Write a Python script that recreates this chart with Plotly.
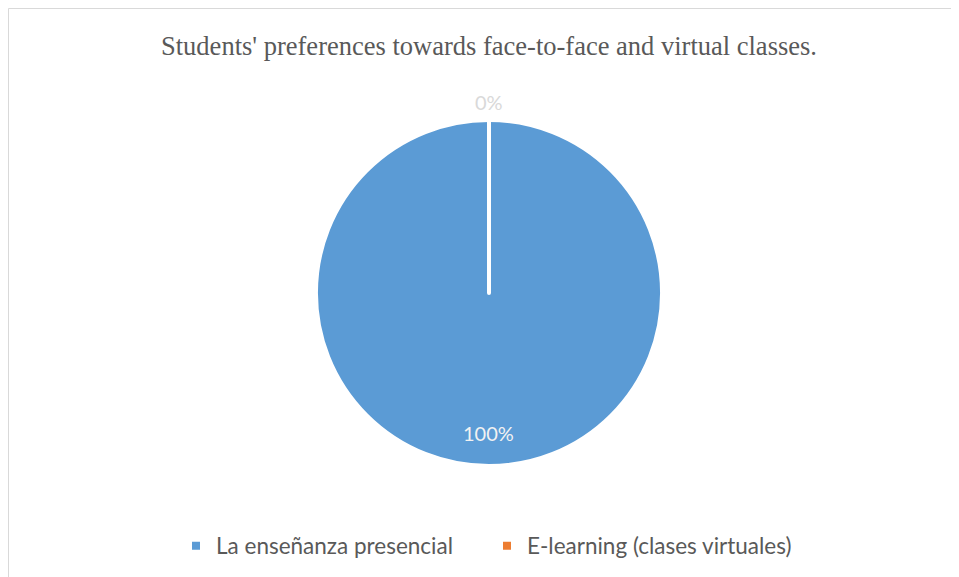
import plotly.graph_objects as go

# 数据
labels = ["La enseñanza presencial", "E-learning (clases virtuales)"]
values = [100, 0]
colors = ["#5B9BD5", "#ED7D31"]
text_colors = ["#F2F2F2", "#D9D9D9"]

# 页面默认有 8px 边距
W, H = 951, 569

# 饼图位置 (像素)
cx, cy, r = 481, 285, 173

fig = go.Figure()

fig.add_trace(go.Pie(
    labels=labels,
    values=values,
    sort=False,
    direction="clockwise",
    rotation=0,
    domain=dict(x=[(cx - r) / W, (cx + r) / W], y=[1 - (cy + r) / H, 1 - (cy - r) / H]),
    marker=dict(colors=colors, line=dict(color="white", width=4)),
    textinfo="none",
    hoverinfo="label+percent",
    showlegend=True,
))

# 数据标签
total = sum(values)
label_pos = [(481, 425), (481, 94)]
for v, c, (lx, ly) in zip(values, text_colors, label_pos):
    fig.add_annotation(
        text=f"{v / total:.0%}",
        xref="paper", yref="paper",
        x=lx / W, y=1 - ly / H,
        xanchor="center", yanchor="middle",
        showarrow=False,
        font=dict(family="Lato, Open Sans, sans-serif", size=20, color=c),
    )

fig.update_layout(
    width=W,
    height=H,
    autosize=False,
    margin=dict(l=0, r=0, t=0, b=0),
    paper_bgcolor="white",
    plot_bgcolor="white",
    title=dict(
        text="Students' preferences towards face-to-face and virtual classes.",
        font=dict(family="Liberation Serif, Times New Roman, serif", size=26.5, color="#595959"),
        x=481 / W, xanchor="center", xref="paper",
        y=1 - 38 / H, yanchor="middle", yref="paper",
    ),
    legend=dict(
        orientation="h",
        x=479 / W, xanchor="center",
        y=1 - 538 / H, yanchor="middle",
        font=dict(family="Lato, Open Sans, sans-serif", size=22.5, color="#595959"),
        entrywidth=266,
    ),
    shapes=[
        # 图表外框 (上边和左边)
        dict(type="line", xref="paper", yref="paper",
             x0=0.5 / W, x1=1.2, y0=1 - 0.5 / H, y1=1 - 0.5 / H,
             line=dict(color="#D9D9D9", width=1), layer="below"),
        dict(type="line", xref="paper", yref="paper",
             x0=0.5 / W, x1=0.5 / W, y0=-0.2, y1=1 - 0.5 / H,
             line=dict(color="#D9D9D9", width=1), layer="below"),
    ],
)

fig.write_html("out.html")
